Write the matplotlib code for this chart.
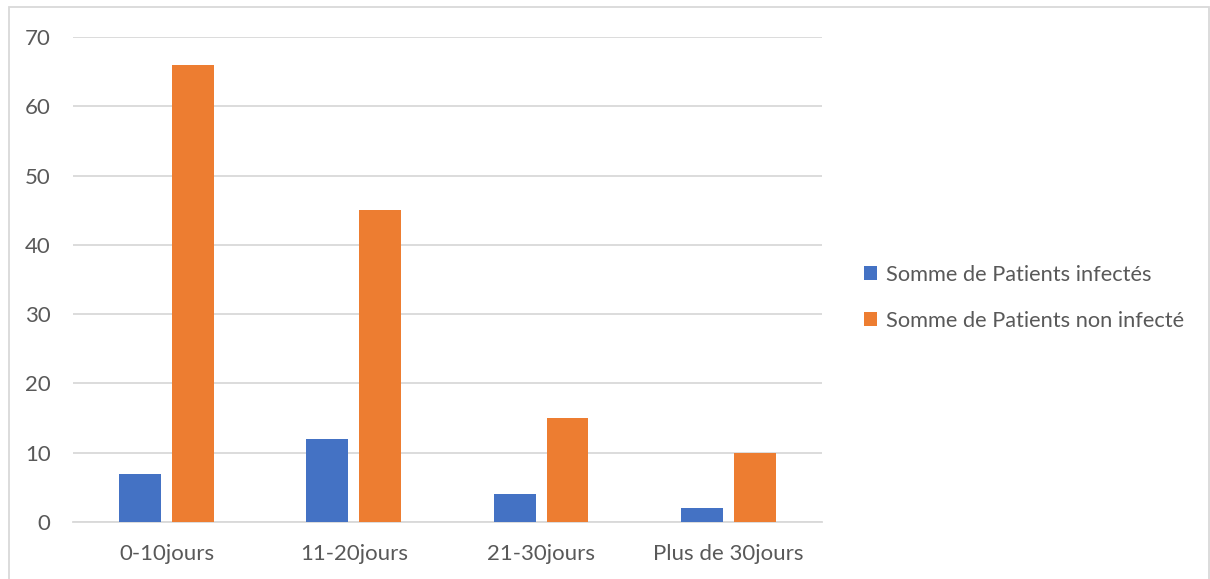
import matplotlib
matplotlib.use("Agg")
import matplotlib.pyplot as plt
import numpy as np
from matplotlib.patches import Rectangle, Patch

categories = ["0-10jours", "11-20jours", "21-30jours", "Plus de 30jours"]
infectes = [7, 12, 4, 2]
non_infectes = [66, 45, 15, 10]
series_labels = ["Somme de Patients infectés", "Somme de Patients non infecté"]
yticks = [0, 10, 20, 30, 40, 50, 60, 70]

blue = "#4472C4"
orange = "#ED7D31"
text_col = "#595959"
grid_col = "#D9D9D9"

plt.rcParams["font.family"] = ["Lato", "DejaVu Sans"]

fig = plt.figure(figsize=(12.1, 5.79), dpi=100)
ax = fig.add_axes([0.0603, 0.0984, 0.619, 0.8377])

x = np.arange(len(categories))
w = 0.224
ax.bar(x - 0.141, infectes, width=w, color=blue, zorder=3)
ax.bar(x + 0.141, non_infectes, width=w, color=orange, zorder=3)

ax.set_xlim(-0.5, len(categories) - 0.5)
ax.set_ylim(0, 70)
ax.set_yticks(yticks)
ax.set_xticks(x)
ax.set_xticklabels(categories)
ax.tick_params(axis="both", length=0, labelsize=16, colors=text_col)
ax.tick_params(axis="y", pad=16)
ax.tick_params(axis="x", pad=16)
ax.yaxis.grid(True, color=grid_col, linewidth=1.3, zorder=0)
for s in ["top", "right", "left"]:
    ax.spines[s].set_visible(False)
ax.spines["bottom"].set_color(grid_col)
ax.spines["bottom"].set_linewidth(1.3)

handles = [Patch(facecolor=blue), Patch(facecolor=orange)]
fig.legend(handles, series_labels, loc="center left", bbox_to_anchor=(0.698, 0.486),
           frameon=False, fontsize=15.7, labelcolor=text_col, handlelength=0.6,
           handleheight=0.6, handletextpad=0.4, labelspacing=1.2)

# outer chart border
fig.patches.append(Rectangle((9 / 1210, -0.01), 1200 / 1210, 1 - 7 / 579 + 0.01,
                             transform=fig.transFigure, fill=False,
                             edgecolor=grid_col, linewidth=1.3))

fig.savefig("out.png", dpi=100)
